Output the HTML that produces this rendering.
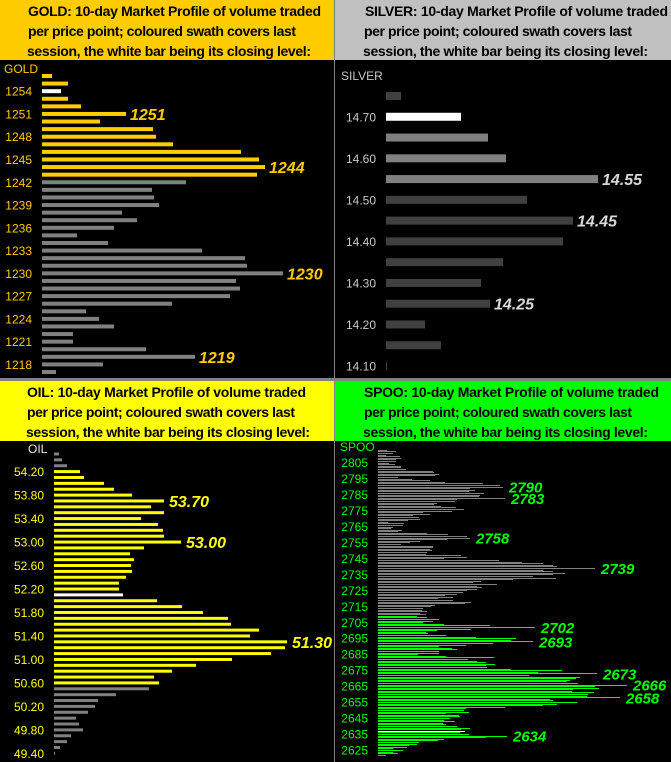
<!DOCTYPE html>
<html><head><meta charset="utf-8">
<style>
html,body{margin:0;padding:0;background:#000;}
svg{display:block;font-family:"Liberation Sans",Arial,sans-serif;}
.hd{font-weight:bold;font-size:14px;fill:#000;}
.tk{font-size:12px;}
.an{font-weight:bold;font-style:italic;font-size:16px;}
.an2{font-weight:bold;font-style:italic;font-size:15px;}
#spoo rect{shape-rendering:crispEdges;}
</style></head>
<body>
<svg id="chart" width="671" height="762" viewBox="0 0 671 762" xmlns="http://www.w3.org/2000/svg">
<rect x="0" y="0" width="671" height="762" fill="#000"/>
<g id="headers">
<rect x="0" y="0" width="334" height="60" fill="#FFCC00"/>
<rect x="335" y="0" width="336" height="60" fill="#C0C0C0"/>
<rect x="0" y="381" width="334" height="60" fill="#FFFF00"/>
<rect x="335" y="381" width="336" height="60" fill="#00FF00"/>
<rect x="334" y="0" width="1" height="762" fill="#808080"/>
<rect x="0" y="378" width="671" height="3" fill="#808080"/>
<g>
<text class="hd" x="28" y="16" textLength="293">GOLD:  10-day Market Profile of volume traded</text>
<text class="hd" x="28" y="36" textLength="268">per price point; coloured swath covers last</text>
<text class="hd" x="27" y="56" textLength="284">session, the white bar being its closing level:</text>
</g>
<g>
<text class="hd" x="365" y="16" textLength="303">SILVER:  10-day Market Profile of volume traded</text>
<text class="hd" x="364" y="36" textLength="268">per price point; coloured swath covers last</text>
<text class="hd" x="363" y="56" textLength="285">session, the white bar being its closing level:</text>
</g>
<g>
<text class="hd" x="27" y="397" textLength="279">OIL:  10-day Market Profile of volume traded</text>
<text class="hd" x="27" y="417" textLength="268">per price point; coloured swath covers last</text>
<text class="hd" x="26" y="437" textLength="284">session, the white bar being its closing level:</text>
</g>
<g>
<text class="hd" x="364" y="397" textLength="295">SPOO:  10-day Market Profile of volume traded</text>
<text class="hd" x="364" y="417" textLength="268">per price point; coloured swath covers last</text>
<text class="hd" x="363" y="437" textLength="285">session, the white bar being its closing level:</text>
</g>
</g>
<g id="gold"></g>
<g id="silver"></g>
<g id="oil"></g>
<g id="spoo"></g>
</svg>
<script>
// ---------- GOLD ----------
const goldPrices = [1256,1255,1254,1253,1252,1251,1250,1249,1248,1247,1246,1245,1244,1243,1242,1241,1240,1239,1238,1237,1236,1235,1234,1233,1232,1231,1230,1229,1228,1227,1226,1225,1224,1223,1222,1221,1220,1219,1218,1217];
const goldVolume = [10,26,19,26,39,84,58,111,114,131,199,217,223,215,144,110,112,117,80,95,72,35,66,160,203,205,241,194,198,188,130,44,57,72,31,31,104,153,61,14];
const goldSwathLow = 1243;
const goldClose = 1254;
const goldTicks = [1254,1251,1248,1245,1242,1239,1236,1233,1230,1227,1224,1221,1218];
const goldAnnotations = [1251,1244,1230,1219];

// ---------- SILVER ----------
const silverPrices = [14.75,14.70,14.65,14.60,14.55,14.50,14.45,14.40,14.35,14.30,14.25,14.20,14.15,14.10];
const silverVolume = [15,75,102,120,212,141,187,177,117,95,104,39,55,1];
const silverSwathLow = 14.55;
const silverClose = 14.70;
const silverTicks = [14.70,14.60,14.50,14.40,14.30,14.20,14.10];
const silverAnnotations = [14.55,14.45,14.25];

// ---------- OIL ----------
const oilPrices = [54.50,54.40,54.30,54.20,54.10,54.00,53.90,53.80,53.70,53.60,53.50,53.40,53.30,53.20,53.10,53.00,52.90,52.80,52.70,52.60,52.50,52.40,52.30,52.20,52.10,52.00,51.90,51.80,51.70,51.60,51.50,51.40,51.30,51.20,51.10,51.00,50.90,50.80,50.70,50.60,50.50,50.40,50.30,50.20,50.10,50.00,49.90,49.80,49.70,49.60,49.50,49.40];
const oilVolume = [5,8,13,26,30,50,60,78,110,97,110,87,104,109,110,127,90,76,80,77,78,72,65,65,69,103,128,149,174,177,205,196,233,231,217,178,142,118,100,105,95,62,44,41,34,22,25,29,17,13,6,1];
const oilSwathHigh = 54.20;
const oilSwathLow = 50.60;
const oilClose = 52.10;
const oilTicks = [54.20,53.80,53.40,53.00,52.60,52.20,51.80,51.40,51.00,50.60,50.20,49.80,49.40];
const oilAnnotations = [53.70,53.00,51.30];

// ---------- SPOO ----------
const spooTop = 2813;
const spooVolume = [
9,18,15,8,22,23,18,18,11,17,23,23,28,55,56,61,57,20,34,52,67,105,122,125,
92,97,91,106,102,101,127,79,77,59,56,63,78,86,74,45,52,35,41,42,30,10,26,25,15,13,24,20,49,70,89,92,69,42,32,23,55,55,52,
54,49,48,83,89,66,121,144,165,175,179,217,165,175,187,175,155,178,135,103,95,119,99,104,99,89,85,79,67,75,60,75,93,87,57,53,45,44,49,42,48,
39,49,61,55,45,66,112,157,93,59,48,50,68,98,138,133,155,115,88,61,74,79,61,
61,40,68,116,90,99,108,117,108,109,133,184,160,219,151,202,198,192,189,200,249,217,221,195,194,216,210,209,242,172,175,199,179,165,127,88,86,91,68,81,82,72,66,77,65,68,79,92,83,87,82,91,129,108,66,60,41,39,31,29,15,25,15,20,8];
const spooSwathHigh = 2709;
const spooSwathLow = 2623;
const spooClose = 2637;
const spooTicks = [2805,2795,2785,2775,2765,2755,2745,2735,2725,2715,2705,2695,2685,2675,2665,2655,2645,2635,2625];
const spooAnnotations = [2790,2783,2758,2739,2702,2693,2673,2666,2658,2634];

const NS = "http://www.w3.org/2000/svg";
function mk(tag, attrs, parent, txt){
  const e = document.createElementNS(NS, tag);
  for (const k in attrs) e.setAttribute(k, attrs[k]);
  if (txt !== undefined) e.textContent = txt;
  parent.appendChild(e);
  return e;
}

// GOLD
(function(){
  const g = document.getElementById('gold');
  const x0 = 42, y0 = 76, step = 7.59, h = 4;
  const y = p => y0 + (goldPrices[0] - p) * step;
  const t = mk('text', {x:4, y:73, class:'tk', fill:'#FFCC00'}, g, 'GOLD');
  
  
  goldPrices.forEach((p, i) => {
    const col = p === goldClose ? '#FFFFFF' : (p >= goldSwathLow ? '#FFCC00' : '#808080');
    const r = mk('rect', {x:x0, y:y(p) - h/2, width:goldVolume[i], height:h, fill:col}, g);
    
    
  });
  goldTicks.forEach(p => {
    const e = mk('text', {x:32, y:y(p) + 4.5, 'text-anchor':'end', class:'tk', fill:'#FFCC00'}, g, String(p));
    
    
  });
  goldAnnotations.forEach(p => {
    const i = goldPrices.indexOf(p);
    const e = mk('text', {x:x0 + goldVolume[i] + 4, y:y(p) + 6, class:'an', fill:'#FFCC00'}, g, String(p));
    
    
  });
})();

// SILVER
(function(){
  const g = document.getElementById('silver');
  const x0 = 386, y0 = 96, step = 20.77, h = 8;
  const y = p => y0 + Math.round((silverPrices[0] - p) / 0.05) * step;
  const t = mk('text', {x:341, y:80, class:'tk', fill:'#C8C8C8'}, g, 'SILVER');
  
  
  silverPrices.forEach((p, i) => {
    let col = '#404040';
    if (p === silverClose) col = '#FFFFFF';
    else if (p >= silverSwathLow && p < silverClose) col = '#808080';
    const r = mk('rect', {x:x0, y:y(p) - h/2, width:silverVolume[i], height:h, fill:col}, g);
    
    
  });
  silverTicks.forEach(p => {
    const e = mk('text', {x:376, y:y(p) + 4.5, 'text-anchor':'end', class:'tk', fill:'#C8C8C8'}, g, p.toFixed(2));
    
    
  });
  silverAnnotations.forEach(p => {
    const i = silverPrices.indexOf(p);
    const e = mk('text', {x:x0 + silverVolume[i] + 4, y:y(p) + 6, class:'an', fill:'#D8D8D8'}, g, p.toFixed(2));
    
    
  });
})();

// OIL
(function(){
  const g = document.getElementById('oil');
  const x0 = 54, y0 = 454, step = 5.87, h = 3;
  const y = p => y0 + Math.round((oilPrices[0] - p) / 0.1) * step;
  const t = mk('text', {x:28, y:453, class:'tk', fill:'#E8E8E8'}, g, 'OIL');
  
  
  oilPrices.forEach((p, i) => {
    let col = '#808080';
    if (Math.abs(p - oilClose) < 0.001) col = '#FFFFFF';
    else if (p <= oilSwathHigh + 0.001 && p >= oilSwathLow - 0.001) col = '#FFFF00';
    const r = mk('rect', {x:x0, y:y(p) - h/2, width:oilVolume[i], height:h, fill:col}, g);
    
    
  });
  oilTicks.forEach(p => {
    const e = mk('text', {x:44, y:y(p) + 4.5, 'text-anchor':'end', class:'tk', fill:'#FFFF00'}, g, p.toFixed(2));
    
    
  });
  oilAnnotations.forEach(p => {
    const i = oilPrices.findIndex(v => Math.abs(v - p) < 0.001);
    const e = mk('text', {x:x0 + oilVolume[i] + 5, y:y(p) + 6, class:'an', fill:'#FFFF00'}, g, p.toFixed(2));
    
    
  });
})();

// SPOO
(function(){
  const g = document.getElementById('spoo');
  const x0 = 378, y0 = 449.9, step = 1.596;
  const y = p => y0 + (spooTop - p) * step;
  const t = mk('text', {x:340, y:451, class:'tk', fill:'#00FF00'}, g, 'SPOO');
  
  
  spooVolume.forEach((v, i) => {
    const p = spooTop - i;
    let col = '#808080';
    if (p === spooClose) col = '#FFFFFF';
    else if (p <= spooSwathHigh && p >= spooSwathLow) col = '#00FF00';
    const r = mk('rect', {x:x0, y:Math.round(y(p)), width:v, height:1, fill:col}, g);
    
    
  });
  spooTicks.forEach(p => {
    const e = mk('text', {x:368, y:y(p) + 4.5, 'text-anchor':'end', class:'tk', fill:'#00FF00'}, g, String(p));
    
    
  });
  spooAnnotations.forEach(p => {
    const v = spooVolume[spooTop - p];
    const e = mk('text', {x:x0 + v + 6, y:y(p) + 6, class:'an2', fill:'#00FF00'}, g, String(p));
    
    
  });
})();
</script>
</body></html>
